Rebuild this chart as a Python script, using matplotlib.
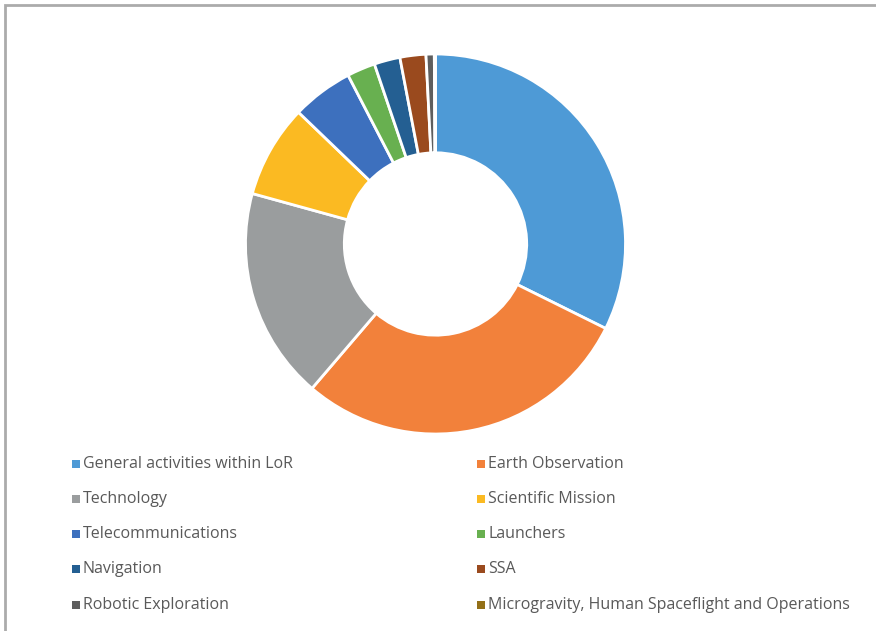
import matplotlib.pyplot as plt
from matplotlib.patches import Rectangle

# Budget share per domain (percent)
labels = [
    'General activities within LoR',
    'Earth Observation',
    'Technology',
    'Scientific Mission',
    'Telecommunications',
    'Launchers',
    'Navigation',
    'SSA',
    'Robotic Exploration',
    'Microgravity, Human Spaceflight and Operations',
]
shares = [32.3, 28.9, 18.0, 7.9, 5.2, 2.4, 2.2, 2.2, 0.7, 0.1]
colors = ['#4E9AD6', '#F2813B', '#9A9D9E', '#FBBA22', '#3D70BE',
          '#68B050', '#245F92', '#9A4A1E', '#5E5E5E', '#937018']

W, H = 876, 631
fig = plt.figure(figsize=(W / 100, H / 100), dpi=100)

# frame around the chart area
fig.patches.append(Rectangle((5 / W, -0.1), 1.2, (H - 5) / H + 0.1,
                             transform=fig.transFigure, fill=False,
                             edgecolor='#ABABAB', linewidth=2))

cx, cy, r = 435.5, 244, 190
ax = fig.add_axes([(cx - r) / W, (H - cy - r) / H, 2 * r / W, 2 * r / H])
ax.pie(shares, colors=colors, startangle=90, counterclock=False,
       radius=1.0, wedgeprops=dict(width=0.52, edgecolor='white', linewidth=2))
ax.set_xlim(-1, 1)
ax.set_ylim(-1, 1)
ax.set_aspect('equal')
ax.axis('off')

# two-column legend below the ring
col_x = [72, 477]
row_y = [464, 499, 534, 569, 605]
for i, (lab, col) in enumerate(zip(labels, colors)):
    x = col_x[i % 2]
    y = row_y[i // 2]
    fig.patches.append(Rectangle((x / W, (H - y - 4) / H), 8 / W, 8 / H,
                                 transform=fig.transFigure, facecolor=col,
                                 edgecolor='none'))
    fig.text((x + 11) / W, (H - y) / H, lab, fontsize=11.5, color='#595959',
             va='center', ha='left', family='Open Sans')

fig.savefig('out.png', dpi=100)
